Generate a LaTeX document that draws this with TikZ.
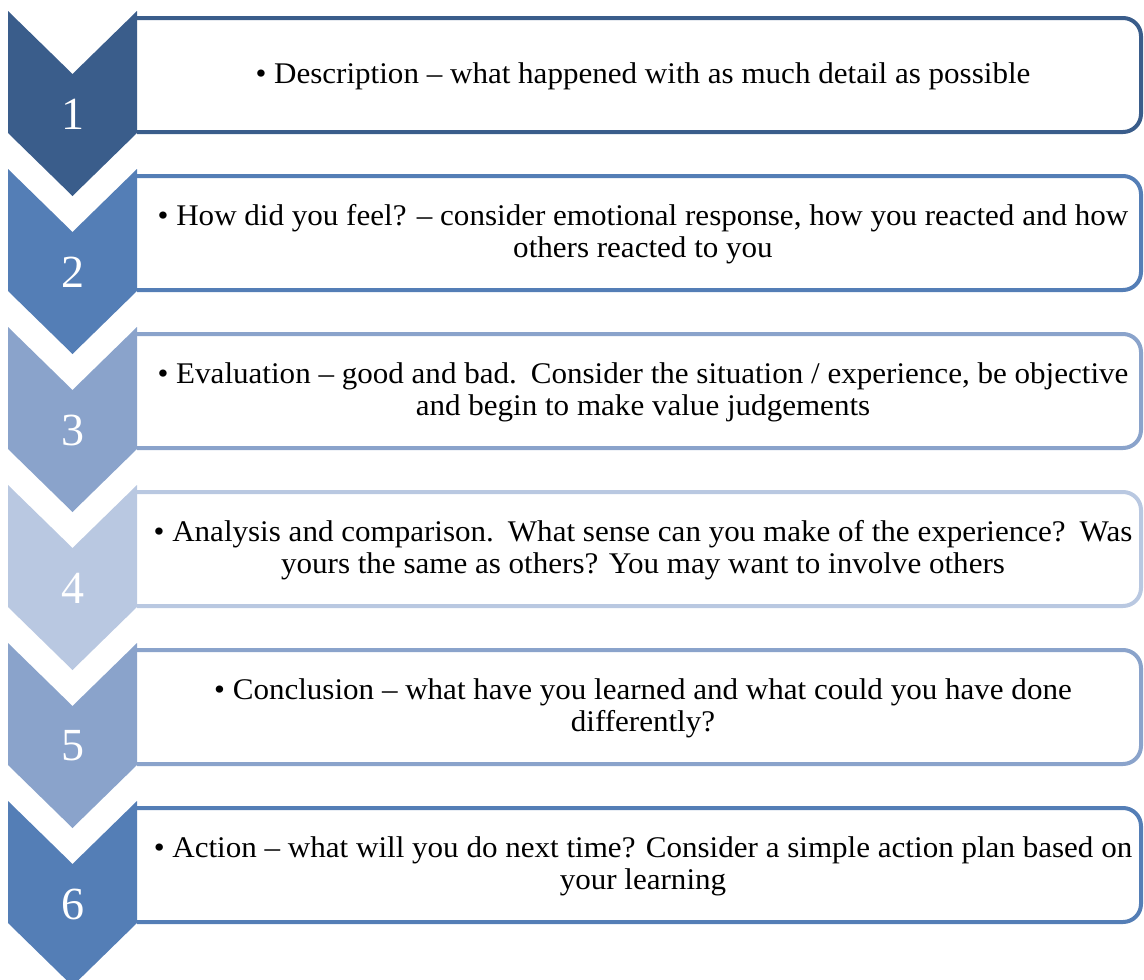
\documentclass[tikz,border=0pt]{standalone}
\usepackage{fontspec}
\setmainfont{Liberation Serif}
\newfontfamily\bodyfont[FakeStretch=1.035]{Liberation Serif}
\definecolor{cA}{HTML}{3A5D8B}
\definecolor{cB}{HTML}{547EB6}
\definecolor{cC}{HTML}{8AA3CB}
\definecolor{cD}{HTML}{B9C8E1}
\newcommand{\dsp}{\hspace{0.12em}}
\tikzset{
  chev/.style={fill=#1, draw=none},
  boxline/.style={draw=#1, line width=4pt, fill=white, rounded corners=18pt},
  numtext/.style={text=white, font=\fontsize{46}{50}\selectfont, inner sep=0pt},
  bodytext/.style={text=black, align=center, font=\bodyfont\fontsize{30}{32}\selectfont, inner sep=0pt}
}
\newcommand{\stepitem}[5]{%
  % #1 index (0..5), #2 colour, #3 number, #4 text, #5 name
  \pgfmathsetmacro{\tt}{11+158*#1}
  \draw[boxline=#2] (137,\tt+7) -- (1141,\tt+7) -- (1141,\tt+121) -- (137,\tt+121);
  \fill[chev=#2] (8,\tt) -- (72.5,\tt+63) -- (137,\tt) -- (137,\tt+122) -- (72.5,\tt+185) -- (8,\tt+122) -- cycle;
  \node[numtext] (n#5) at (72.5,\tt+103) {#3};
  \node[bodytext] (t#5) at (643,\tt+65) {#4};
}
\begin{document}
\begin{tikzpicture}[x=1pt,y=-1pt]
\useasboundingbox (0,0) rectangle (1144,980);
\stepitem{0}{cA}{1}{• Description – what happened with as much detail as possible}{a}
\stepitem{1}{cB}{2}{• How did you feel? – consider emotional response, how you reacted and how\\ others reacted to you}{b}
\stepitem{2}{cC}{3}{• Evaluation – good and bad. \dsp Consider the situation / experience, be objective\\ and begin to make value judgements}{c}
\stepitem{3}{cD}{4}{• Analysis and comparison. \dsp What sense can you make of the experience? \dsp Was\\ yours the same as others? You may want to involve others}{d}
\stepitem{4}{cC}{5}{• Conclusion – what have you learned and what could you have done\\ differently?}{e}
\stepitem{5}{cB}{6}{• Action – what will you do next time? Consider a simple action plan based on\\ your learning}{f}
\end{tikzpicture}
\end{document}
